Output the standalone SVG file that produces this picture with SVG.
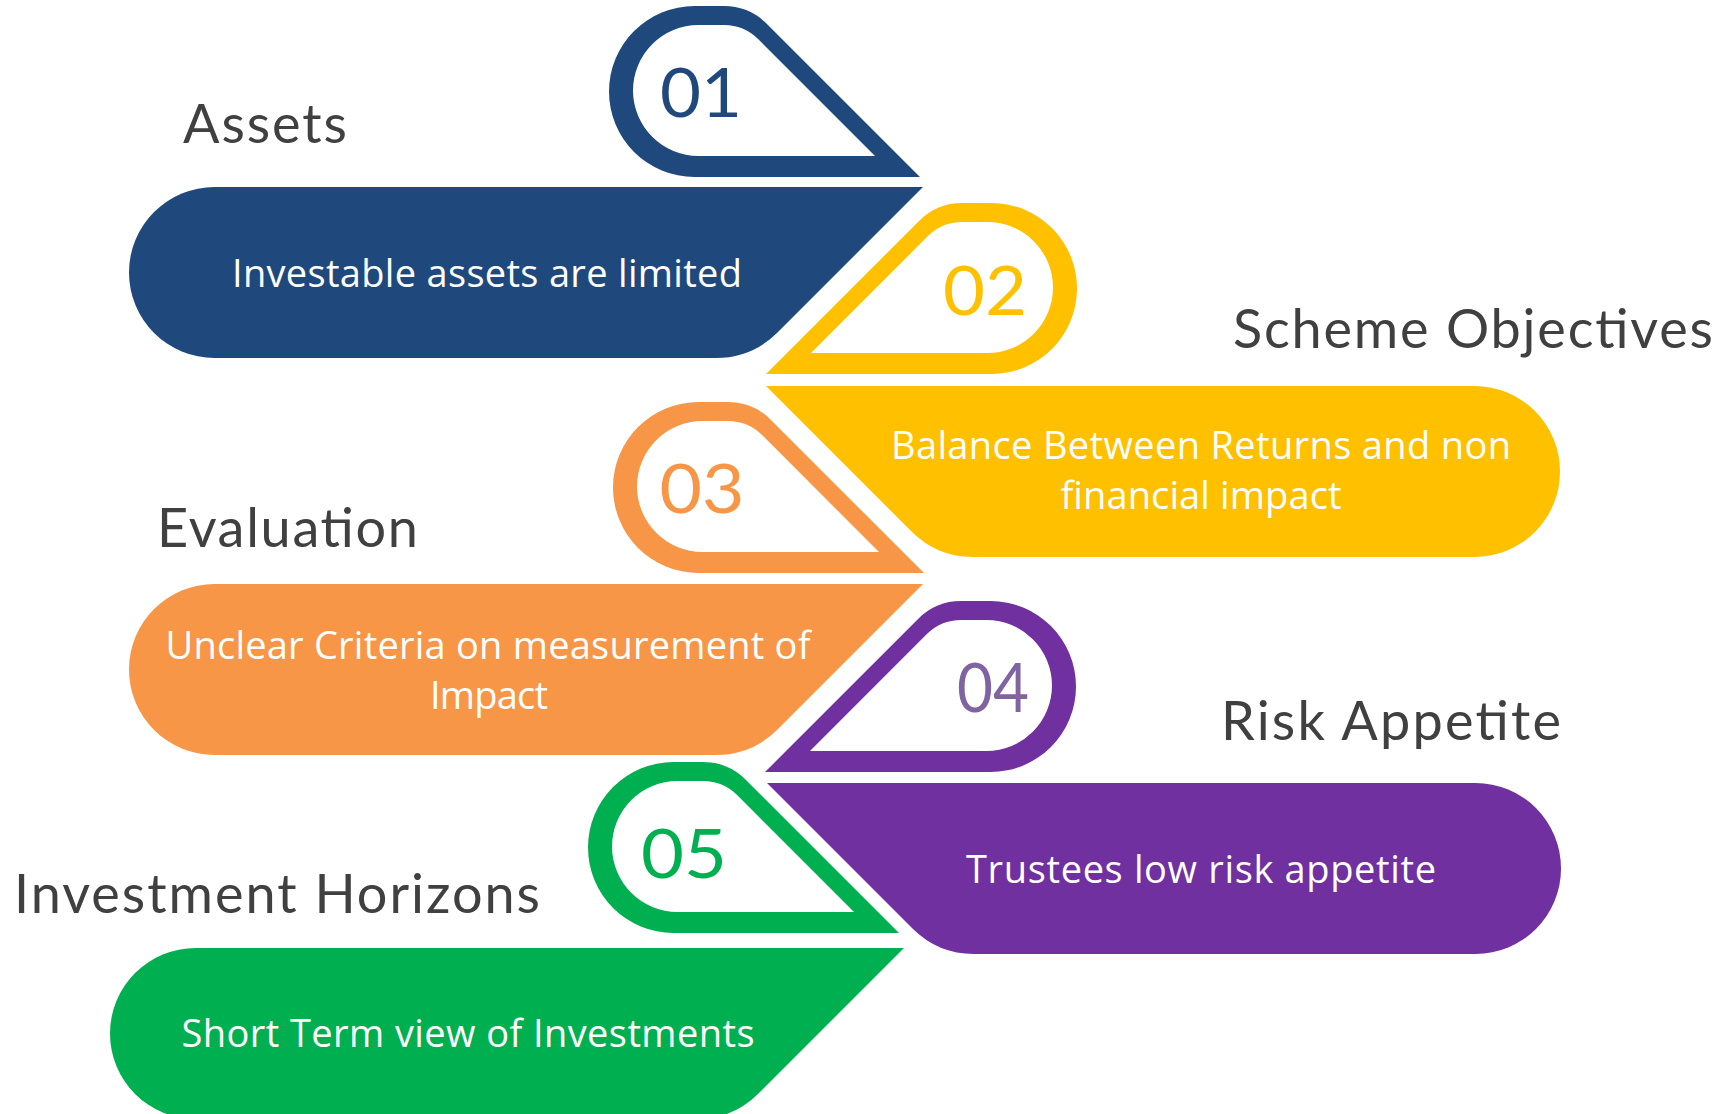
<svg xmlns="http://www.w3.org/2000/svg" width="1729" height="1114" viewBox="0 0 1729 1114">
<defs>
<style>
.title{font-family:Lato,"Noto Sans",sans-serif;font-size:54px;fill:#404040}
.body{font-family:"Open Sans","Noto Sans",sans-serif;font-size:38px;fill:#ffffff;text-anchor:middle}
.num{font-family:Lato,"Noto Sans",sans-serif;font-size:68px;text-anchor:middle}
</style>
<path id="drop" fill-rule="evenodd" d="M85.5,0 L115,0 Q140,0 157.7,17.7 L311,171 L85.5,171 A85.5,85.5 0 0 1 85.5,0 Z M89.5,19 L115,19 Q135,19 149.1,33.1 L266,150 L89.5,150 A65.5,65.5 0 0 1 89.5,19 Z"/>
<path id="bar" d="M85.5,0 L794,0 L648.5,145.5 Q623,171 587,171 L85.5,171 A85.5,85.5 0 0 1 85.5,0 Z"/>
</defs>
<rect width="1729" height="1114" fill="#ffffff"/>
<g id="node1">
<use href="#drop" transform="translate(609,6)" fill="#1F497D"/>
<text class="num" x="701" y="117" fill="#1F497D" textLength="82" lengthAdjust="spacingAndGlyphs">01</text>
<use href="#bar" transform="translate(129,187)" fill="#1F497D"/>
<text class="title" x="183" y="143" textLength="164">Assets</text>
<text class="body" x="487" y="287" textLength="510">Investable assets are limited</text>
</g>
<g id="node2">
<use href="#drop" transform="translate(1077,203) scale(-1,1)" fill="#FFC000"/>
<text class="num" x="985" y="315" fill="#FFC000" textLength="84" lengthAdjust="spacingAndGlyphs">02</text>
<use href="#bar" transform="translate(1560,386) scale(-1,1)" fill="#FFC000"/>
<text class="title" x="1233" y="348" textLength="480">Scheme Objectives</text>
<text class="body" x="1201" y="459" textLength="620">Balance Between Returns and non</text>
<text class="body" x="1201" y="509" textLength="281">financial impact</text>
</g>
<g id="node3">
<use href="#drop" transform="translate(613,402)" fill="#F79646"/>
<text class="num" x="702" y="513" fill="#F79646" textLength="85" lengthAdjust="spacingAndGlyphs">03</text>
<use href="#bar" transform="translate(129,584)" fill="#F79646"/>
<text class="title" x="157" y="547" textLength="261">Evaluation</text>
<text class="body" x="488" y="659" textLength="645">Unclear Criteria on measurement of</text>
<text class="body" x="489" y="709" textLength="118">Impact</text>
</g>
<g id="node4">
<use href="#drop" transform="translate(1076,601) scale(-1,1)" fill="#7030A0"/>
<text class="num" x="993" y="712" fill="#8064A2" textLength="72" lengthAdjust="spacingAndGlyphs">04</text>
<use href="#bar" transform="translate(1561,783) scale(-1,1)" fill="#7030A0"/>
<text class="title" x="1221" y="740" textLength="340">Risk Appetite</text>
<text class="body" x="1201" y="883" textLength="470">Trustees low risk appetite</text>
</g>
<g id="node5">
<use href="#drop" transform="translate(588,762)" fill="#00B050"/>
<text class="num" x="684" y="878" fill="#00B050" textLength="86" lengthAdjust="spacingAndGlyphs">05</text>
<use href="#bar" transform="translate(110,948)" fill="#00B050"/>
<text class="title" x="14" y="913" textLength="526">Investment Horizons</text>
<text class="body" x="468" y="1047" textLength="573">Short Term view of Investments</text>
</g>
<g id="connectors"></g>
</svg>
